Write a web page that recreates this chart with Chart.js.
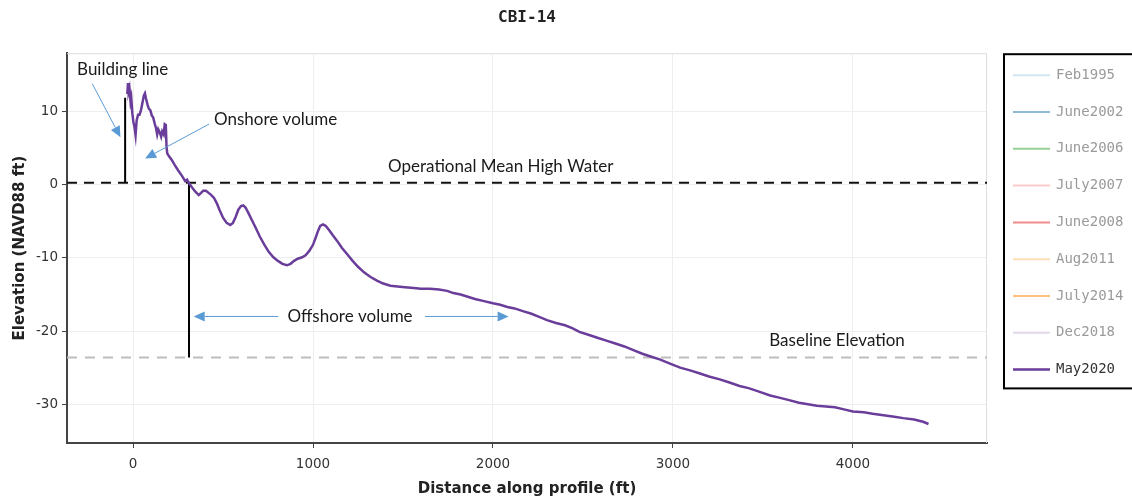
<!DOCTYPE html>
<html>
<head>
<meta charset="utf-8">
<title>CBI-14</title>
<script src="https://cdn.jsdelivr.net/npm/chart.js@4.4.1/dist/chart.umd.min.js"></script>
<style>
  html, body { margin: 0; padding: 0; background: #fff; }
  #profile-chart { display: block; }
</style>
</head>
<body>
<canvas id="profile-chart" width="1132" height="499"></canvas>
<script>
// surveys listed in the legend, only the last one is plotted
var surveys = ['Feb1995', 'June2002', 'June2006', 'July2007', 'June2008', 'Aug2011', 'July2014', 'Dec2018', 'May2020'];
var surveyColors = ['#a6cee3', '#1f78b4', '#33a02c', '#fb9a99', '#e31a1c', '#fdbf6f', '#ff7f00', '#cab2d6', '#6a3d9a'];
var shownSurvey = 'May2020';

// May2020 profile: distance (ft) and elevation (ft NAVD88)
var profileDist = [-32, -28, -24, -20, -14, -10, -4, 2, 8, 14, 20, 28, 36, 44, 52, 60, 66, 72, 80, 88,
    96, 104, 112, 120, 128, 134, 140, 148, 156, 162, 170, 176, 182, 186, 190, 200, 215, 232, 250, 270,
    290, 300, 312, 326, 345, 365, 378, 390, 405, 420, 435, 450, 465, 480, 500, 520, 540, 555, 570, 585,
    600, 612, 625, 640, 660, 680, 705, 730, 755, 780, 805, 830, 855, 875, 895, 915, 940, 960, 980, 1000,
    1015, 1028, 1040, 1055, 1070, 1090, 1110, 1135, 1160, 1190, 1220, 1250, 1285, 1320, 1355, 1390, 1430, 1470, 1510, 1560,
    1600, 1650, 1700, 1745, 1780, 1820, 1860, 1900, 1950, 2000, 2040, 2080, 2120, 2170, 2210, 2260, 2300, 2350, 2400, 2440,
    2480, 2530, 2580, 2630, 2680, 2730, 2780, 2830, 2880, 2930, 2980, 3040, 3100, 3150, 3200, 3260, 3310, 3370, 3420, 3470,
    3540, 3590, 3640, 3700, 3750, 3800, 3850, 3900, 3950, 4000, 4060, 4110, 4170, 4230, 4280, 4340, 4390, 4420];
var profileElev = [12.4, 13.9, 12.8, 13.2, 11.4, 11.9, 9.8, 8.6, 7.9, 6.8, 8.8, 9.6, 9.6, 10.2, 11.2, 12.2, 12.5, 11.8, 11.0, 10.4,
    10.2, 9.5, 9.2, 8.4, 7.7, 6.9, 7.6, 7.2, 6.6, 7.3, 6.9, 8.3, 8.2, 5.2, 4.3, 3.9, 3.4, 2.7, 2.0, 1.3,
    0.5, 0.7, 0.2, -0.3, -0.9, -1.4, -1.1, -0.8, -0.8, -1.1, -1.4, -1.8, -2.5, -3.4, -4.5, -5.2, -5.5, -5.2, -4.4, -3.4,
    -2.9, -2.8, -3.1, -3.8, -4.8, -5.8, -7.1, -8.2, -9.2, -9.9, -10.4, -10.8, -11.0, -10.8, -10.4, -10.1, -9.9, -9.6, -9.0, -8.2,
    -7.2, -6.3, -5.6, -5.4, -5.6, -6.2, -6.9, -7.7, -8.6, -9.5, -10.4, -11.2, -12.0, -12.6, -13.1, -13.5, -13.8, -13.9, -14.0, -14.1,
    -14.2, -14.2, -14.3, -14.5, -14.8, -15.0, -15.3, -15.6, -15.9, -16.2, -16.4, -16.7, -16.9, -17.3, -17.6, -18.1, -18.5, -18.9, -19.2, -19.6,
    -20.1, -20.5, -20.9, -21.3, -21.7, -22.1, -22.6, -23.1, -23.5, -23.9, -24.4, -25.0, -25.4, -25.8, -26.2, -26.6, -27.0, -27.5, -27.8, -28.2,
    -28.8, -29.1, -29.4, -29.8, -30.0, -30.2, -30.3, -30.4, -30.7, -31.0, -31.1, -31.3, -31.5, -31.7, -31.9, -32.1, -32.4, -32.7];

// reference levels and volume limits
var mhwElev = 0.3;
var baselineElev = -23.6;
var buildingLineDist = -44;
var buildingLineTop = 11.9;
var offshoreLimitDist = 311;

// axes
var xRange = [-367, 4745];
var yRange = [-35.3, 18];
var xTicks = [0, 1000, 2000, 3000, 4000];
var yTicks = [-30, -20, -10, 0, 10];

// callout texts and arrows, in data units
var notes = [
    { text: 'Building line', x: -311, y: 15.8 },
    { text: 'Onshore volume', x: 450, y: 8.9 },
    { text: 'Operational Mean High Water', x: 1417, y: 2.5 },
    { text: 'Offshore volume', x: 858, y: -18.0 },
    { text: 'Baseline Elevation', x: 3535, y: -21.3 }
];
var arrows = [
    { from: [-226, 13.8], to: [-70, 6.5] },
    { from: [422, 8.3], to: [67, 3.6] },
    { from: [806, -18.0], to: [337, -18.0] },
    { from: [1622, -18.0], to: [2087, -18.0] }
];

function pts(xs, ys) {
    return xs.map(function (x, i) { return { x: x, y: ys[i] }; });
}

function fade(hex, a) {
    var n = parseInt(hex.slice(1), 16);
    return 'rgba(' + (n >> 16) + ',' + ((n >> 8) & 255) + ',' + (n & 255) + ',' + a + ')';
}

var datasets = surveys.map(function (name, i) {
    var shown = name === shownSurvey;
    return {
        label: name,
        survey: true,
        data: shown ? pts(profileDist, profileElev) : [],
        hidden: !shown,
        borderColor: shown ? surveyColors[i] : fade(surveyColors[i], 0.5),
        borderWidth: 2.5,
        pointRadius: 0,
        showLine: true,
        order: 0
    };
});

// horizontal levels and the two volume limit lines
datasets.push({
    label: 'mhw', data: pts(xRange, [mhwElev, mhwElev]),
    borderColor: '#111', borderWidth: 2, borderDash: [10, 7], pointRadius: 0, showLine: true, order: 2
});
datasets.push({
    label: 'baseline', data: pts(xRange, [baselineElev, baselineElev]),
    borderColor: '#bdbdbd', borderWidth: 2, borderDash: [10, 8], pointRadius: 0, showLine: true, order: 2
});
datasets.push({
    label: 'building', data: pts([buildingLineDist, buildingLineDist], [mhwElev, buildingLineTop]),
    borderColor: '#000', borderWidth: 2, pointRadius: 0, showLine: true, order: 1
});
datasets.push({
    label: 'offshore', data: pts([offshoreLimitDist, offshoreLimitDist], [mhwElev, baselineElev]),
    borderColor: '#000', borderWidth: 2, pointRadius: 0, showLine: true, order: 1
});

function drawArrow(ctx, x0, y0, x1, y1) {
    var ang = Math.atan2(y1 - y0, x1 - x0);
    var len = 11, half = 5;
    var bx = x1 - len * Math.cos(ang), by = y1 - len * Math.sin(ang);
    ctx.beginPath();
    ctx.moveTo(x0, y0);
    ctx.lineTo(bx, by);
    ctx.stroke();
    ctx.beginPath();
    ctx.moveTo(x1, y1);
    ctx.lineTo(bx + half * Math.sin(ang), by - half * Math.cos(ang));
    ctx.lineTo(bx - half * Math.sin(ang), by + half * Math.cos(ang));
    ctx.closePath();
    ctx.fill();
}

// light frame on the top and right of the plot area
var framePlugin = {
    id: 'frame',
    beforeDatasetsDraw: function (chart) {
        var a = chart.chartArea, ctx = chart.ctx;
        ctx.save();
        ctx.strokeStyle = '#dddddd';
        ctx.lineWidth = 1;
        ctx.beginPath();
        ctx.moveTo(a.left, a.top + 0.5);
        ctx.lineTo(a.right - 0.5, a.top + 0.5);
        ctx.lineTo(a.right - 0.5, a.bottom);
        ctx.stroke();
        ctx.restore();
    }
};

var notesPlugin = {
    id: 'notes',
    afterDatasetsDraw: function (chart) {
        var ctx = chart.ctx, sx = chart.scales.x, sy = chart.scales.y;
        ctx.save();
        ctx.strokeStyle = '#5b9bd5';
        ctx.fillStyle = '#5b9bd5';
        ctx.lineWidth = 1;
        arrows.forEach(function (a) {
            drawArrow(ctx, sx.getPixelForValue(a.from[0]), sy.getPixelForValue(a.from[1]),
                sx.getPixelForValue(a.to[0]), sy.getPixelForValue(a.to[1]));
        });
        ctx.fillStyle = '#1a1a1a';
        ctx.font = '17px Lato';
        ctx.textAlign = 'left';
        ctx.textBaseline = 'middle';
        notes.forEach(function (n) {
            ctx.fillText(n.text, sx.getPixelForValue(n.x), sy.getPixelForValue(n.y));
        });
        ctx.restore();
    }
};

// boxed legend to the right of the plot
var legendPlugin = {
    id: 'surveyLegend',
    afterDraw: function (chart) {
        var ctx = chart.ctx;
        var left = chart.chartArea.right + 17, top = chart.chartArea.top + 1;
        var rowH = 36.8;
        var items = chart.data.datasets.filter(function (d) { return d.survey; });
        ctx.save();
        ctx.strokeStyle = '#000';
        ctx.lineWidth = 2;
        ctx.strokeRect(left, top, 160, items.length * rowH + 3);
        ctx.font = '14px "DejaVu Sans Mono"';
        ctx.textAlign = 'left';
        ctx.textBaseline = 'middle';
        items.forEach(function (d, i) {
            var y = top + 21 + i * rowH;
            ctx.strokeStyle = d.borderColor;
            ctx.lineWidth = d.hidden ? 2 : 2.5;
            ctx.beginPath();
            ctx.moveTo(left + 9, y);
            ctx.lineTo(left + 46, y);
            ctx.stroke();
            ctx.fillStyle = d.hidden ? '#9a9a9a' : '#333';
            ctx.fillText(d.label, left + 52, y);
        });
        ctx.restore();
    }
};

var axisFont = { family: 'DejaVu Sans', size: 13.5 };
var titleFont = { family: 'DejaVu Sans', size: 15, weight: 'bold' };
var plainNumber = function (v) { return String(v); };

new Chart(document.getElementById('profile-chart').getContext('2d'), {
    type: 'scatter',
    data: { datasets: datasets },
    options: {
        responsive: false,
        animation: false,
        events: [],
        layout: { padding: { top: 0, right: 145, bottom: 1, left: 0 } },
        plugins: {
            legend: { display: false },
            tooltip: { enabled: false },
            title: {
                display: true,
                text: 'CBI-14',
                fullSize: false,
                color: '#222',
                font: { family: 'DejaVu Sans Mono', size: 16, weight: 'bold' },
                padding: { top: 8, bottom: 26 }
            }
        },
        scales: {
            x: {
                type: 'linear',
                min: xRange[0],
                max: xRange[1],
                afterFit: function (s) { s.height = 55; },
                afterBuildTicks: function (s) { s.ticks = xTicks.map(function (v) { return { value: v }; }); },
                grid: { color: '#eeeeee', lineWidth: 1, tickLength: 5, tickColor: '#444' },
                border: { color: '#444', width: 2 },
                ticks: { font: axisFont, color: '#333', padding: 8, maxRotation: 0, callback: plainNumber },
                title: { display: true, text: 'Distance along profile (ft)', color: '#222', font: titleFont, padding: { top: 0, bottom: 0 } }
            },
            y: {
                type: 'linear',
                min: yRange[0],
                max: yRange[1],
                afterFit: function (s) { s.width = 67; },
                afterBuildTicks: function (s) { s.ticks = yTicks.map(function (v) { return { value: v }; }); },
                grid: { color: '#eeeeee', lineWidth: 1, tickLength: 5, tickColor: '#444' },
                border: { color: '#444', width: 2 },
                ticks: { font: axisFont, color: '#333', padding: 4, callback: plainNumber },
                title: { display: true, text: 'Elevation (NAVD88 ft)', color: '#222', font: titleFont, padding: { top: 11, bottom: 0 } }
            }
        }
    },
    plugins: [framePlugin, notesPlugin, legendPlugin]
});
</script>
</body>
</html>
